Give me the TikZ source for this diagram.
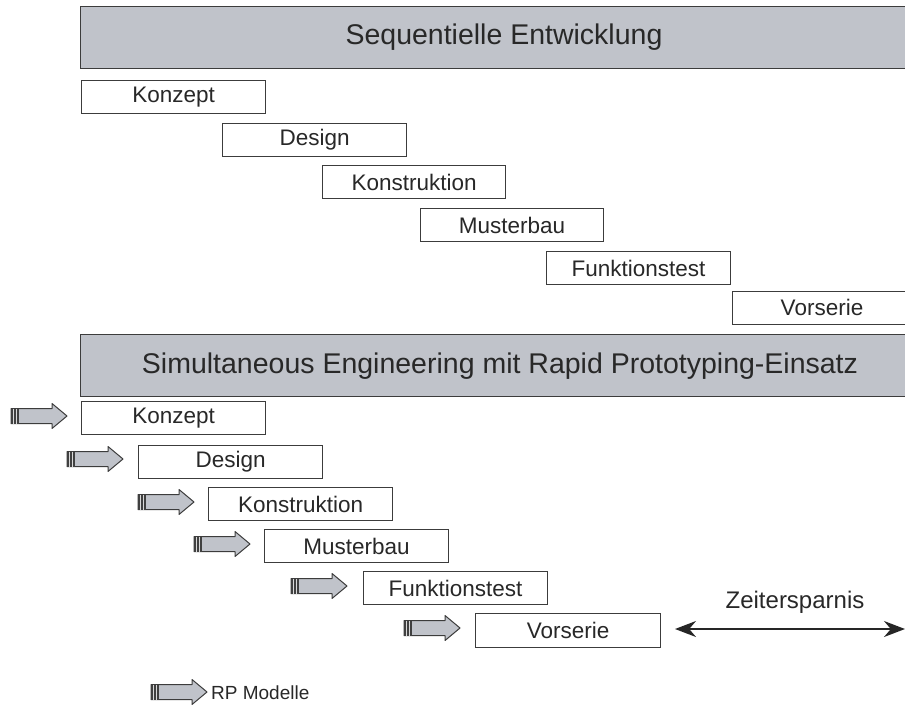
\documentclass[tikz,border=0pt]{standalone}
\usepackage{fontspec}
\setmainfont{Liberation Sans}
\usetikzlibrary{arrows.meta}
\definecolor{bannergray}{RGB}{192,195,202}
\definecolor{linegray}{RGB}{60,60,60}
\definecolor{txtgray}{RGB}{40,40,40}
\tikzset{
  phase/.style={draw=linegray, line width=1.1pt, fill=white, anchor=north west, inner sep=0pt},
  phasetext/.style={text=txtgray, font=\fontsize{22.5}{26}\selectfont},
  banner/.style={draw=linegray, line width=1.3pt, fill=bannergray, anchor=north west, inner sep=0pt},
  bannertext/.style={text=txtgray, font=\fontsize{28.5}{33}\selectfont},
  pics/rparrow/.style={code={
    \fill[bannergray, draw=linegray, line width=1pt, line join=round]
      (0,-7.5) -- (41,-7.5) -- (41,-12.5) -- (56,0) -- (41,12.5) -- (41,7.5) -- (0,7.5) -- cycle;
    \fill[black!75] (0,-7.5) rectangle (8,7.5);
    \draw[white!70!gray, line width=0.6pt] (2.7,-7.5) -- (2.7,7.5) (5.4,-7.5) -- (5.4,7.5);
  }}
}
\begin{document}
\begin{tikzpicture}[x=1pt,y=-1pt]
\useasboundingbox (0,0) rectangle (905,713);
\begin{scope}
\clip (0,0) rectangle (905,713);
% banners
\node[banner, minimum width=830pt, minimum height=62pt] (b1) at (80,6) {};
\node[bannertext] (t1) at (504,37) {Sequentielle Entwicklung};
\node[banner, minimum width=830pt, minimum height=62pt] (b2) at (80,334) {};
\node[bannertext] (t2) at (500,366) {Simultaneous Engineering mit Rapid Prototyping-Einsatz};

% sequential phases
\node[phase, minimum width=184pt, minimum height=33pt] (s1) at (81,80) {};
\node[phasetext] (ls1) at (s1.center) {Konzept};
\node[phase, minimum width=184pt, minimum height=33pt] (s2) at (222,123) {};
\node[phasetext] (ls2) at (s2.center) {Design};
\node[phase, minimum width=183pt, minimum height=33pt] (s3) at (322,165) {};
\node[phasetext] (ls3) at (s3.center) {Konstruktion};
\node[phase, minimum width=183pt, minimum height=33pt] (s4) at (420,208) {};
\node[phasetext] (ls4) at (s4.center) {Musterbau};
\node[phase, minimum width=184pt, minimum height=33pt] (s5) at (546,251) {};
\node[phasetext] (ls5) at (s5.center) {Funktionstest};
\node[phase, minimum width=190pt, minimum height=33pt] (s6) at (732,291) {};
\node[phasetext] (ls6) at (822,307) {Vorserie};

% SE phases
\node[phase, minimum width=184pt, minimum height=33pt] (p1) at (81,401) {};
\node[phasetext] (lp1) at (p1.center) {Konzept};
\node[phase, minimum width=184pt, minimum height=33pt] (p2) at (138,445) {};
\node[phasetext] (lp2) at (p2.center) {Design};
\node[phase, minimum width=184pt, minimum height=33pt] (p3) at (208,487) {};
\node[phasetext] (lp3) at (p3.center) {Konstruktion};
\node[phase, minimum width=184pt, minimum height=33pt] (p4) at (264,529) {};
\node[phasetext] (lp4) at (p4.center) {Musterbau};
\node[phase, minimum width=184pt, minimum height=33pt] (p5) at (363,571) {};
\node[phasetext] (lp5) at (p5.center) {Funktionstest};
\node[phase, minimum width=185pt, minimum height=34pt] (p6) at (475,613) {};
\node[phasetext] (lp6) at (p6.center) {Vorserie};

% RP arrows
\pic at (11,416) {rparrow};
\pic at (67,459) {rparrow};
\pic at (138,502) {rparrow};
\pic at (194,544) {rparrow};
\pic at (291,586) {rparrow};
\pic at (404,628) {rparrow};

% Zeitersparnis
\coordinate (za) at (675,629);
\coordinate (zb) at (905,629);
\draw[black!85, line width=1.8pt, {Stealth[length=21pt,width=16pt]}-{Stealth[length=21pt,width=16pt]}] (za) -- (zb);
\node[phasetext, font=\fontsize{24}{28}\selectfont] (zl) at (795,602) {Zeitersparnis};

% legend
\pic at (151,692) {rparrow};
\node[anchor=west, text=txtgray, font=\fontsize{19}{23}\selectfont, inner sep=0pt] (leg) at (211,693) {RP Modelle};
\end{scope}
\end{tikzpicture}
\end{document}
